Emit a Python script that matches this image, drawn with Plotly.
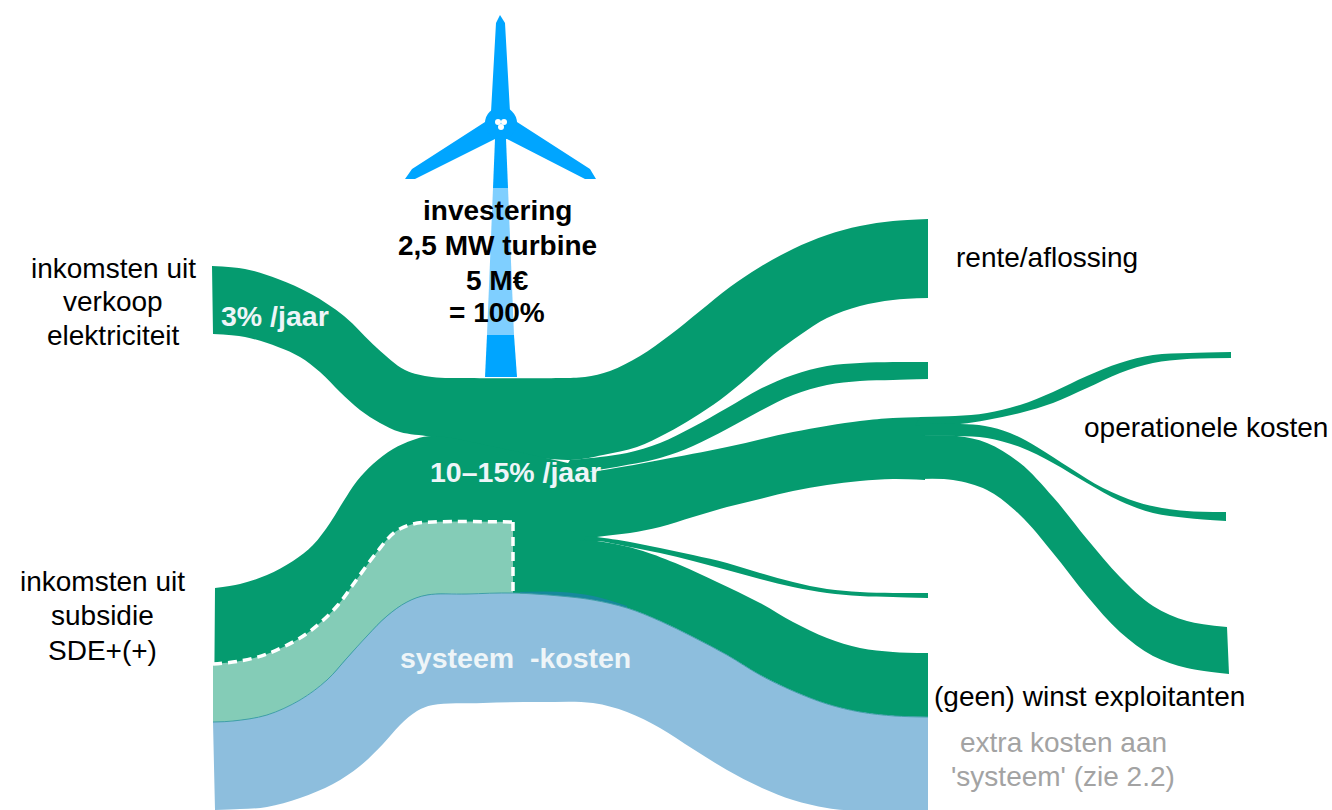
import plotly.graph_objects as go

# ---- band edges: (x positions, y positions) ----
rente_top_x = [212, 245, 278, 311, 344, 377, 405, 432, 465, 560, 585, 610, 640, 670, 700, 730, 760, 793, 827, 860, 893, 928]
rente_top_y = [266, 269, 279, 294, 316, 348, 370, 377, 378, 378, 377, 371, 356, 335, 311, 287, 267, 249, 235, 226, 221, 219]
rente_bot_x = [213, 245, 278, 300, 320, 340, 360, 380, 400, 432, 500, 570, 603, 637, 667, 693, 720, 747, 773, 800, 827, 860, 893, 928]
rente_bot_y = [334, 337, 347, 357, 372, 392, 410, 423, 432, 437, 452, 460, 455, 447, 433, 418, 400, 378, 355, 335, 318, 306, 300, 298]

dun_top_x = [570, 600, 627, 660, 693, 727, 760, 793, 827, 860, 893, 928]
dun_top_y = [460, 457, 453, 443, 427, 408, 389, 375, 366, 363, 362, 362]
dun_bot_x = [560, 610, 660, 693, 727, 760, 793, 827, 860, 893, 928]
dun_bot_y = [476, 468, 458, 446, 429, 411, 395, 385, 381, 380, 379]

subsidie_top_x = [215, 240, 267, 293, 313, 330, 343, 357, 373, 393, 413, 432, 500, 590]
subsidie_top_y = [588, 584, 575, 561, 545, 523, 502, 481, 464, 449, 440, 436, 448, 468]
subsidie_bot_x = [214, 267, 327, 367, 407, 440, 513, 598]
subsidie_bot_y = [722, 715, 680, 636, 602, 594, 593, 600]

oper_top_x = [580, 610, 660, 727, 793, 860, 893, 925]
oper_top_y = [473, 469, 460, 447, 432, 421, 418, 417]
oper_bot_x = [580, 597, 630, 660, 693, 727, 760, 793, 827, 860, 893, 925]
oper_bot_y = [541, 537, 533, 527, 517, 507, 499, 491, 485, 481, 479, 480]

fan1_top_x = [920, 955, 987, 1020, 1053, 1087, 1120, 1153, 1190, 1231]
fan1_top_y = [417, 416, 413, 405, 392, 376, 363, 355, 353, 352]
fan1_bot_x = [915, 960, 987, 1020, 1053, 1087, 1120, 1153, 1187, 1231]
fan1_bot_y = [426, 424, 420, 413, 403, 388, 373, 363, 359, 358]

fan2_top_x = [920, 960, 985, 1010, 1037, 1070, 1103, 1137, 1162, 1187, 1226]
fan2_top_y = [424, 424, 426, 433, 447, 468, 488, 502, 508, 511, 512]
fan2_bot_x = [920, 957, 987, 1020, 1053, 1087, 1120, 1153, 1187, 1226]
fan2_bot_y = [436, 436, 438, 447, 463, 483, 501, 513, 518, 521]

fan3_top_x = [920, 957, 987, 1020, 1053, 1087, 1120, 1153, 1187, 1227]
fan3_top_y = [436, 436, 443, 463, 497, 539, 577, 606, 621, 627]
fan3_bot_x = [920, 953, 987, 1020, 1053, 1087, 1120, 1153, 1187, 1229]
fan3_bot_y = [479, 480, 490, 515, 553, 596, 632, 656, 668, 674]

onder_dun_top_x = [585, 597, 630, 660, 693, 727, 760, 793, 827, 860, 893, 928]
onder_dun_top_y = [536, 537, 542, 548, 555, 563, 573, 582, 589, 592, 593, 593]
onder_dun_bot_x = [585, 597, 630, 660, 693, 727, 760, 793, 827, 860, 893, 928]
onder_dun_bot_y = [542, 541, 547, 553, 561, 570, 579, 587, 593, 596, 597, 598]

winst_top_x = [585, 597, 620, 643, 680, 717, 760, 793, 827, 860, 893, 928]
winst_top_y = [540, 541, 545, 551, 565, 582, 603, 622, 638, 648, 652, 653]
winst_bot_x = [585, 627, 660, 693, 727, 760, 793, 827, 860, 895, 928]
winst_bot_y = [598, 608, 621, 637, 655, 675, 691, 704, 712, 716, 717]

licht_top_x = [213, 240, 267, 300, 320, 338, 357, 377, 395, 413, 433, 513]
licht_top_y = [664, 661, 654, 638, 623, 605, 579, 552, 532, 524, 522, 522]
licht_bot_x = [213, 233, 267, 300, 327, 347, 367, 387, 407, 427, 467, 513]
licht_bot_y = [722, 721, 715, 700, 680, 658, 636, 616, 602, 595, 594, 593]
licht_rand_x = [513, 513]
licht_rand_y = [522, 593]

wig_top_x = [520, 560, 593, 627]
wig_top_y = [592, 592, 596, 606]
wig_bot_x = [520, 560, 593, 627]
wig_bot_y = [594, 596, 600, 608]

blauw_top_x = [213, 233, 267, 300, 327, 347, 367, 387, 407, 427, 467, 513, 560, 593, 627, 660, 693, 727, 760, 793, 827, 860, 895, 928]
blauw_top_y = [722, 721, 715, 700, 680, 658, 636, 616, 602, 595, 594, 593, 596, 600, 608, 621, 637, 655, 675, 691, 704, 712, 716, 717]
blauw_bot_x = [215, 240, 267, 300, 333, 360, 383, 400, 417, 433, 483, 540, 593, 627, 660, 693, 727, 760, 793, 827, 860, 928]
blauw_bot_y = [810, 809, 807, 798, 784, 766, 744, 725, 711, 705, 703, 702, 703, 712, 728, 749, 770, 787, 800, 808, 811, 812]

# ---- turbine outlines ----
blad_x = [500, 496, 491, 485, 412, 405, 415, 495, 507, 585, 596, 590, 517, 510, 505, 500]
blad_y = [15, 23, 112, 122, 169, 179, 179, 139, 139, 179, 179, 169, 122, 112, 23, 15]
mast_boven_x = [495, 493, 508, 506, 495]
mast_boven_y = [139, 188, 188, 139, 139]
mast_licht_x = [493, 487, 514, 508, 493]
mast_licht_y = [188, 335, 335, 188, 188]
mast_onder_x = [487, 485, 517, 514, 487]
mast_onder_y = [335, 377, 377, 335, 335]
naaf_x = [501]
naaf_y = [123]
naaf_wit_x = [498, 504, 501]
naaf_wit_y = [122, 122, 127]

# ---- labels ----
zwart_teksten = [
    ("inkomsten uit", 113, 268), ("verkoop", 113, 301), ("elektriciteit", 113, 335),
    ("inkomsten uit", 102, 581), ("subsidie", 102, 615), ("SDE+(+)", 102, 650),
    ("rente/aflossing", 1047, 257),
    ("operationele kosten", 1206, 427),
    ("(geen) winst exploitanten", 1089, 696),
]
vet_teksten = [("investering", 497, 210), ("2,5 MW turbine", 497, 245),
               ("5 M€", 497, 280), ("= 100%", 497, 312)]
wit_teksten = [
    ("3% /jaar", 275, 316),
    ("10–15% /jaar", 515, 472),
    ("systeem  -kosten", 515, 658),
]
grijs_teksten = [("extra kosten aan", 1063, 742), ("'systeem' (zie 2.2)", 1063, 776)]

GROEN = "#059b6f"
LICHT = "#84ccb7"
BLAUW = "#8dbedd"
WIG = "#15899b"
TURBINE = "#00a5ff"
BLEEK = "#7fcfff"
FONT = "Liberation Sans"
GLAD = 1

fig = go.Figure()


def band(tx, ty, bx, by, kleur, rand=None):
    fig.add_trace(go.Scatter(
        x=tx, y=ty, mode="lines", hoverinfo="skip", showlegend=False,
        line=dict(shape="spline", smoothing=GLAD, width=1 if rand else 0, color=rand or kleur)))
    fig.add_trace(go.Scatter(
        x=bx, y=by, mode="lines", hoverinfo="skip", showlegend=False, fill="tonexty",
        fillcolor=kleur, line=dict(shape="spline", smoothing=GLAD, width=0, color=kleur)))


def vlak(x, y, kleur):
    fig.add_trace(go.Scatter(x=x, y=y, mode="lines", fill="toself", fillcolor=kleur,
                             hoverinfo="skip", showlegend=False,
                             line=dict(width=0, color=kleur)))


vlak(blad_x, blad_y, TURBINE)
vlak(mast_boven_x, mast_boven_y, TURBINE)
vlak(mast_licht_x, mast_licht_y, BLEEK)
vlak(mast_onder_x, mast_onder_y, TURBINE)
fig.add_trace(go.Scatter(x=naaf_x, y=naaf_y, mode="markers", hoverinfo="skip", showlegend=False,
                         marker=dict(size=32, color=TURBINE)))
fig.add_trace(go.Scatter(x=naaf_wit_x, y=naaf_wit_y, mode="markers", hoverinfo="skip", showlegend=False,
                         marker=dict(size=6, color="white")))

band(rente_top_x, rente_top_y, rente_bot_x, rente_bot_y, GROEN)
band(dun_top_x, dun_top_y, dun_bot_x, dun_bot_y, GROEN)
band(subsidie_top_x, subsidie_top_y, subsidie_bot_x, subsidie_bot_y, GROEN)
band(oper_top_x, oper_top_y, oper_bot_x, oper_bot_y, GROEN)
band(fan1_top_x, fan1_top_y, fan1_bot_x, fan1_bot_y, GROEN)
band(fan2_top_x, fan2_top_y, fan2_bot_x, fan2_bot_y, GROEN)
band(fan3_top_x, fan3_top_y, fan3_bot_x, fan3_bot_y, GROEN)
band(onder_dun_top_x, onder_dun_top_y, onder_dun_bot_x, onder_dun_bot_y, GROEN)
band(winst_top_x, winst_top_y, winst_bot_x, winst_bot_y, GROEN)
band(licht_top_x, licht_top_y, licht_bot_x, licht_bot_y, LICHT)
band(wig_top_x, wig_top_y, wig_bot_x, wig_bot_y, WIG)
band(blauw_top_x, blauw_top_y, blauw_bot_x, blauw_bot_y, BLAUW, rand="#3f9fa8")

for xs, ys, vorm in [(licht_top_x, licht_top_y, "spline"), (licht_rand_x, licht_rand_y, "linear")]:
    fig.add_trace(go.Scatter(x=xs, y=ys, mode="lines", hoverinfo="skip", showlegend=False,
                             line=dict(shape=vorm, smoothing=GLAD, width=3.5, color="white", dash="9px,6px")))

ann = []
for groep, kleur, vet, grootte in [(zwart_teksten, "black", False, 28), (vet_teksten, "black", True, 28),
                                   (wit_teksten, "#eef5f8", True, 28.5), (grijs_teksten, "#a3a3a3", False, 28)]:
    for t, x, y in groep:
        ann.append(dict(text=f"<b>{t}</b>" if vet else t, x=x, y=y, xref="x", yref="y",
                        xanchor="center", yanchor="middle", showarrow=False, align="center",
                        font=dict(family=FONT, size=grootte, color=kleur)))

fig.update_layout(
    width=1332, height=810, margin=dict(l=0, r=0, t=0, b=0),
    plot_bgcolor="white", paper_bgcolor="white", showlegend=False,
    xaxis=dict(range=[0, 1332], visible=False, fixedrange=True),
    yaxis=dict(range=[810, 0], visible=False, fixedrange=True),
    annotations=ann,
)
fig.write_html("out.html", config={"displayModeBar": False},
               post_script="document.body.style.margin='0';document.body.style.overflow='hidden';")
